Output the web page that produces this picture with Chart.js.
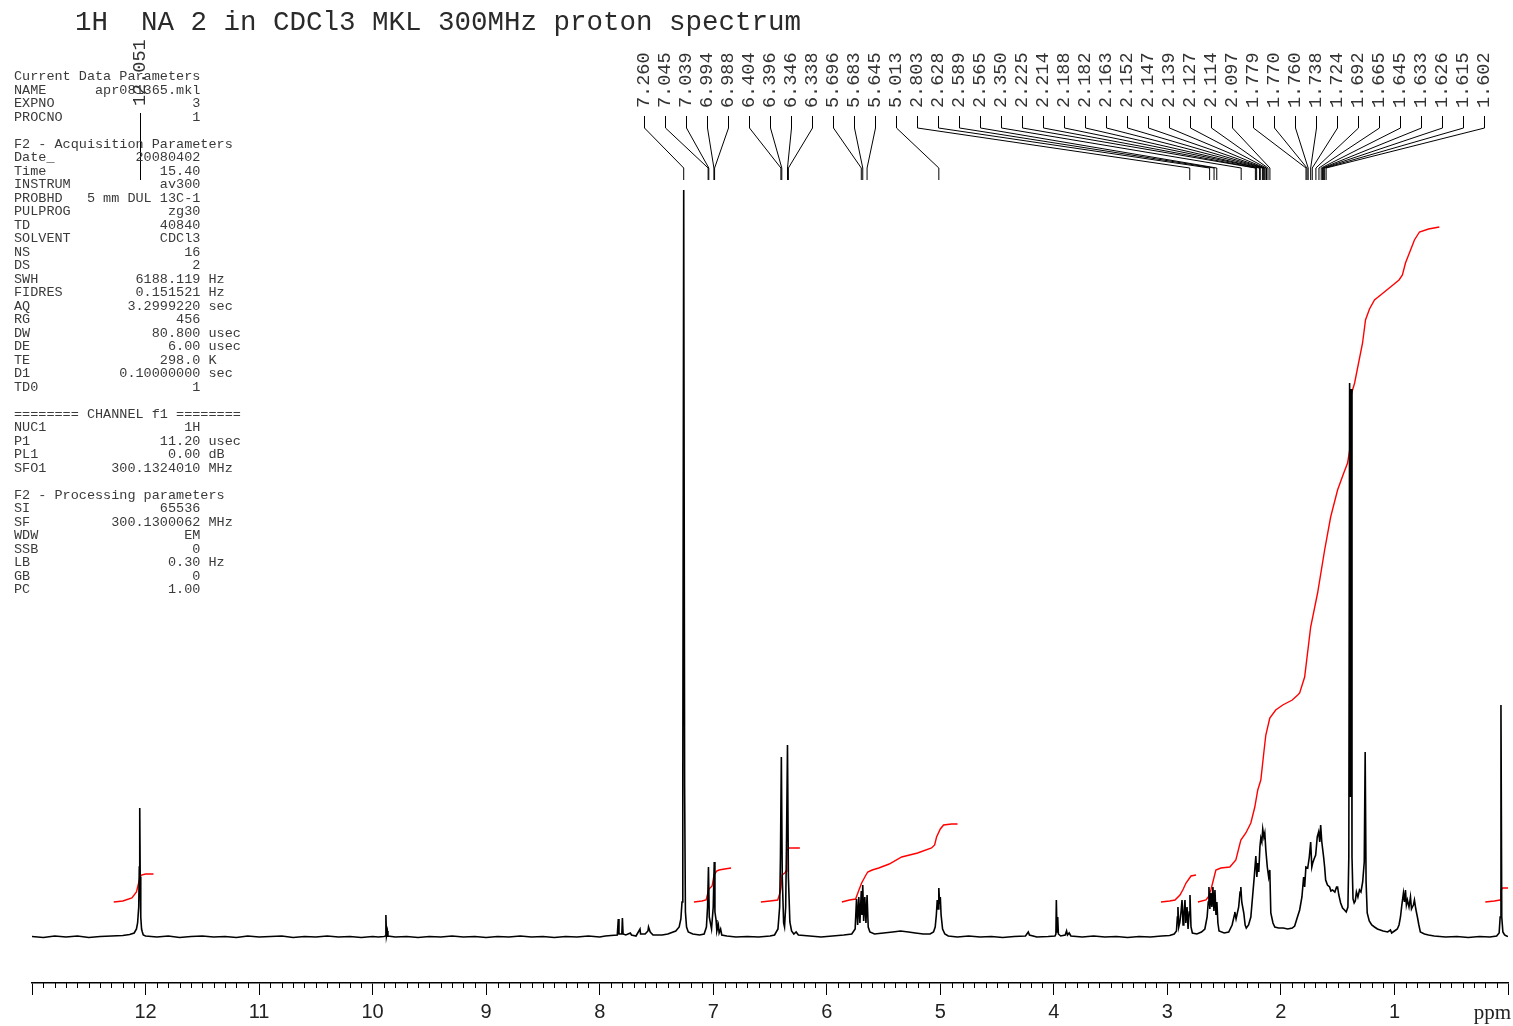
<!DOCTYPE html>
<html>
<head>
<meta charset="utf-8">
<script src="https://cdn.jsdelivr.net/npm/chart.js@4.4.0/dist/chart.umd.min.js"></script>
<style>
  html, body { margin: 0; padding: 0; background: #fff; }
  #wrap { position: relative; width: 1513px; height: 1026px; }
  canvas { position: absolute; left: 0; top: 0; }
  #title { position: absolute; left: 75px; top: 7px; font: 27.5px "Liberation Mono", monospace; line-height: 32px; color: #2a2a2a; white-space: pre; }
  #params { position: absolute; left: 14px; top: 70px; margin: 0; font: 13.5px "Liberation Mono", monospace; line-height: 13.5px; color: #3a3a3a; }
</style>
</head>
<body>
<div id="wrap">
  <canvas id="nmr" width="1513" height="1026"></canvas>
  <div id="title">1H  NA 2 in CDCl3 MKL 300MHz proton spectrum</div>
  <pre id="params"></pre>
</div>
<script>
  // axis ticks (ppm)
  const xTicks = [12, 11, 10, 9, 8, 7, 6, 5, 4, 3, 2, 1];

  // picked peaks shown at the top
  const acidPeak = 12.051;
  const peakLabels = [7.260, 7.045, 7.039, 6.994, 6.988, 6.404, 6.396, 6.346, 6.338,
    5.696, 5.683, 5.645, 5.013, 2.803, 2.628, 2.589, 2.565, 2.350, 2.225, 2.214,
    2.188, 2.182, 2.163, 2.152, 2.147, 2.139, 2.127, 2.114, 2.097, 1.779, 1.770,
    1.760, 1.738, 1.724, 1.692, 1.665, 1.645, 1.633, 1.626, 1.615, 1.602];

  // spectrum trace [ppm, intensity]
  const spectrum = [
    [13.00, 0.5], [12.90, -0.5], [12.80, 1], [12.70, 0], [12.60, 1], [12.50, -0.5], [12.40, 0.5],
    [12.30, 1], [12.20, 1.5], [12.14, 2.5], [12.10, 4], [12.08, 8], [12.07, 14], [12.06, 30],
    [12.055, 70], [12.051, 129], [12.047, 60], [12.042, 20], [12.035, 8], [12.028, 5], [12.02, 2],
    [12.00, 1], [11.90, 0], [11.80, 1], [11.70, -0.5], [11.60, 0.5], [11.50, 1], [11.40, 0],
    [11.30, 0.5], [11.20, -0.5], [11.10, 1], [11.00, 0], [10.90, 0.5], [10.80, 1], [10.70, -0.5],
    [10.60, 0.5], [10.50, 0], [10.40, 1], [10.30, 0], [10.20, 0.5], [10.10, -0.5], [10.00, 0.5],
    [9.95, 0], [9.90, 0.5], [9.888, 1], [9.883, 22], [9.878, 1], [9.870, 6], [9.865, 1],
    [9.80, 0], [9.70, 0.5], [9.60, -0.5], [9.50, 0.5], [9.40, 0], [9.30, 1], [9.20, 0],
    [9.10, 0.5], [9.00, -0.5], [8.90, 0.5], [8.80, 0], [8.70, 1], [8.60, 0], [8.50, 0.5],
    [8.40, -0.5], [8.30, 0.5], [8.20, 0], [8.10, 1], [8.00, 0], [7.95, 1], [7.90, 1.5],
    [7.845, 2], [7.836, 18], [7.830, 3], [7.805, 3], [7.800, 19], [7.794, 3], [7.77, 2],
    [7.73, 4], [7.72, 2], [7.68, 1], [7.645, 8], [7.640, 3], [7.60, 3], [7.575, 6], [7.570, 10],
    [7.555, 5], [7.53, 2], [7.45, 2], [7.40, 3], [7.33, 6], [7.30, 10], [7.285, 18], [7.275, 35],
    [7.268, 150], [7.260, 747], [7.252, 150], [7.245, 25], [7.235, 10], [7.22, 5], [7.18, 3],
    [7.12, 2], [7.08, 3], [7.06, 10], [7.050, 30], [7.042, 70], [7.035, 20], [7.015, 8],
    [7.000, 30], [6.991, 75], [6.985, 25], [6.975, 17], [6.968, 6], [6.955, 12], [6.948, 4],
    [6.935, 8], [6.925, 2], [6.88, 1], [6.80, 0], [6.70, 0.5], [6.60, 0], [6.50, 1], [6.46, 2],
    [6.43, 8], [6.415, 30], [6.408, 80], [6.400, 180], [6.392, 60], [6.380, 14], [6.372, 10],
    [6.362, 30], [6.355, 90], [6.346, 192], [6.338, 60], [6.325, 15], [6.31, 6], [6.29, 3],
    [6.27, 5], [6.25, 2], [6.15, 1], [6.05, 0], [5.95, 1], [5.85, 2], [5.78, 3], [5.75, 8],
    [5.738, 38], [5.728, 12], [5.718, 40], [5.708, 14], [5.696, 46], [5.690, 22], [5.683, 52],
    [5.675, 16], [5.665, 40], [5.655, 14], [5.645, 42], [5.635, 10], [5.62, 5], [5.58, 3],
    [5.50, 4], [5.42, 5], [5.35, 6], [5.28, 5], [5.22, 4], [5.15, 3], [5.09, 3], [5.06, 5],
    [5.045, 10], [5.035, 22], [5.027, 37], [5.020, 28], [5.013, 49], [5.006, 33], [5.000, 40],
    [4.993, 22], [4.980, 8], [4.96, 3], [4.93, 1], [4.85, 0], [4.75, 1], [4.65, 0], [4.55, 0.5],
    [4.45, -0.5], [4.35, 0.5], [4.25, 1], [4.225, 5], [4.215, 2], [4.15, 0], [4.05, 0.5],
    [3.99, 1], [3.982, 3], [3.978, 37], [3.972, 5], [3.966, 20], [3.960, 3], [3.94, 1],
    [3.90, 2], [3.888, 6], [3.880, 2], [3.865, 4], [3.85, 1], [3.75, 0], [3.65, 1], [3.55, 0],
    [3.45, 0.5], [3.35, -0.5], [3.25, 0.5], [3.15, 0], [3.05, 1], [2.98, 1.5], [2.94, 3],
    [2.92, 6], [2.912, 20], [2.907, 30], [2.900, 10], [2.890, 15], [2.880, 25], [2.871, 37],
    [2.862, 12], [2.855, 22], [2.845, 37], [2.838, 14], [2.827, 30], [2.818, 8], [2.808, 25],
    [2.801, 42], [2.792, 10], [2.78, 4], [2.74, 3], [2.70, 5], [2.67, 8], [2.650, 20],
    [2.640, 35], [2.634, 50], [2.626, 28], [2.617, 44], [2.608, 30], [2.599, 50], [2.590, 26],
    [2.581, 47], [2.572, 22], [2.564, 35], [2.555, 14], [2.545, 6], [2.50, 4], [2.46, 5],
    [2.43, 12], [2.41, 22], [2.406, 25], [2.395, 18], [2.372, 30], [2.360, 45], [2.353, 50],
    [2.345, 35], [2.327, 24], [2.315, 12], [2.305, 9], [2.285, 12], [2.265, 20], [2.250, 40],
    [2.235, 60], [2.221, 81], [2.212, 60], [2.204, 74], [2.195, 65], [2.185, 90], [2.177, 99],
    [2.168, 95], [2.160, 108], [2.150, 100], [2.142, 104], [2.133, 87], [2.120, 70],
    [2.108, 60], [2.098, 67], [2.089, 24], [2.070, 14], [2.054, 10], [2.02, 9], [1.98, 9],
    [1.94, 8], [1.90, 9], [1.879, 11], [1.86, 18], [1.835, 27], [1.815, 40], [1.800, 60],
    [1.791, 50], [1.780, 70], [1.764, 69], [1.750, 80], [1.738, 95], [1.728, 70], [1.720, 74],
    [1.708, 78], [1.694, 82], [1.680, 100], [1.668, 105], [1.658, 95], [1.650, 112],
    [1.640, 95], [1.624, 80], [1.615, 70], [1.606, 57], [1.590, 52], [1.571, 50], [1.560, 46],
    [1.545, 47], [1.525, 45], [1.510, 50], [1.501, 50], [1.490, 42], [1.474, 34], [1.457, 29],
    [1.440, 27], [1.425, 25], [1.410, 30], [1.402, 80], [1.395, 554], [1.388, 140],
    [1.381, 548], [1.374, 80], [1.365, 38], [1.355, 34], [1.345, 36], [1.335, 45], [1.322, 40],
    [1.308, 47], [1.295, 45], [1.280, 55], [1.266, 75], [1.258, 185], [1.250, 55], [1.240, 24],
    [1.222, 16], [1.200, 12], [1.176, 10], [1.15, 8], [1.10, 6], [1.06, 5], [1.035, 7],
    [1.025, 4], [1.00, 6], [0.975, 8], [0.960, 12], [0.947, 20], [0.935, 32], [0.921, 44],
    [0.912, 35], [0.903, 47], [0.895, 32], [0.886, 37], [0.872, 30], [0.859, 40], [0.850, 28],
    [0.842, 30], [0.833, 32], [0.824, 37], [0.812, 28], [0.798, 20], [0.785, 12], [0.772, 5],
    [0.736, 3], [0.70, 2], [0.65, 1], [0.55, 0], [0.45, 0.5], [0.35, -0.5], [0.25, 0.5],
    [0.16, 0], [0.10, 1], [0.078, 4], [0.069, 20], [0.062, 232], [0.055, 20], [0.045, 5],
    [0.030, 2], [0.012, 1], [0.00, 0.5]
  ];

  // integral curves [ppm, height]
  const integral1 = [[12.28, 35], [12.20, 36], [12.12, 39], [12.08, 45], [12.065, 52], [12.05, 59], [12.035, 62], [12.00, 63], [11.93, 63]];
  const integral2 = [[7.17, 35], [7.10, 36], [7.063, 37], [7.045, 45], [7.037, 48], [7.010, 51], [6.993, 62], [6.97, 66], [6.949, 67], [6.90, 68], [6.843, 69]];
  const integral3 = [[6.58, 35], [6.50, 36], [6.432, 37], [6.410, 45], [6.403, 50], [6.394, 62], [6.370, 64], [6.359, 66], [6.351, 87], [6.330, 89], [6.307, 89], [6.237, 89]];
  const integral4 = [[5.867, 35], [5.80, 37], [5.746, 38], [5.72, 46], [5.693, 54], [5.66, 61], [5.639, 65], [5.60, 67], [5.542, 69], [5.45, 73], [5.34, 80], [5.20, 84], [5.077, 89], [5.050, 92], [5.033, 100], [5.00, 108], [4.971, 112], [4.90, 113], [4.848, 113]];
  const integral5 = [[3.056, 35], [2.98, 36], [2.933, 37], [2.889, 42], [2.860, 48], [2.836, 54], [2.792, 61], [2.748, 62]];
  const integral6 = [[2.731, 35], [2.660, 37], [2.640, 40], [2.617, 47], [2.573, 67], [2.529, 69], [2.450, 70], [2.397, 77], [2.353, 97], [2.309, 104], [2.265, 114], [2.230, 130], [2.204, 147], [2.177, 157], [2.150, 185], [2.133, 202], [2.098, 219], [2.046, 227], [1.984, 232], [1.900, 237], [1.852, 242], [1.835, 244], [1.791, 260], [1.738, 310], [1.677, 344], [1.615, 387], [1.562, 420], [1.501, 447], [1.450, 463], [1.413, 474], [1.390, 490], [1.387, 540], [1.351, 554], [1.281, 594], [1.255, 617], [1.220, 628], [1.176, 637], [1.100, 644], [1.035, 650], [0.960, 657], [0.930, 662], [0.903, 674], [0.824, 697], [0.780, 705], [0.700, 708], [0.605, 710]];
  const integral7 = [[0.20, 35], [0.12, 36], [0.070, 37], [0.062, 47], [0.048, 49], [0.00, 49]];

  // acquisition / processing parameters
  const paramRows = [
    ['Current Data Parameters'], ['NAME', 'apr081365.mkl'], ['EXPNO', '3'], ['PROCNO', '1'], [''],
    ['F2 - Acquisition Parameters'], ['Date_', '20080402'], ['Time', '15.40'], ['INSTRUM', 'av300'],
    ['PROBHD', '5 mm DUL 13C-1'], ['PULPROG', 'zg30'], ['TD', '40840'], ['SOLVENT', 'CDCl3'],
    ['NS', '16'], ['DS', '2'], ['SWH', '6188.119', 'Hz'], ['FIDRES', '0.151521', 'Hz'],
    ['AQ', '3.2999220', 'sec'], ['RG', '456'], ['DW', '80.800', 'usec'], ['DE', '6.00', 'usec'],
    ['TE', '298.0', 'K'], ['D1', '0.10000000', 'sec'], ['TD0', '1'], [''],
    ['======== CHANNEL f1 ========'], ['NUC1', '1H'], ['P1', '11.20', 'usec'], ['PL1', '0.00', 'dB'],
    ['SFO1', '300.1324010', 'MHz'], [''], ['F2 - Processing parameters'], ['SI', '65536'],
    ['SF', '300.1300062', 'MHz'], ['WDW', 'EM'], ['SSB', '0'], ['LB', '0.30', 'Hz'], ['GB', '0'], ['PC', '1.00']
  ];

  document.getElementById('params').textContent = paramRows.map(function(r) {
    if (r.length === 1) return r[0];
    return r[0] + r[1].padStart(23 - r[0].length) + (r[2] ? ' ' + r[2] : '');
  }).join('\n');

  const toXY = arr => arr.map(p => ({ x: p[0], y: p[1] }));

  function integralSet(arr) {
    return { data: toXY(arr), borderColor: '#ff0000', borderWidth: 1.4, pointRadius: 0, tension: 0, fill: false };
  }

  // peak picking labels, minor ticks and the ppm unit
  const decorPlugin = {
    id: 'decor',
    afterDraw(chart) {
      const ctx = chart.ctx, xs = chart.scales.x, bottom = chart.chartArea.bottom;
      ctx.save();

      // minor ticks every 0.1 ppm
      ctx.strokeStyle = '#000';
      ctx.lineWidth = 1;
      ctx.beginPath();
      for (let i = 1; i < 130; i++) {
        if (i % 10 === 0) continue;
        const x = Math.round(xs.getPixelForValue(i / 10)) + 0.5;
        ctx.moveTo(x, bottom);
        ctx.lineTo(x, bottom + 5);
      }
      ctx.stroke();

      ctx.font = '21px "Liberation Serif", serif';
      ctx.fillStyle = '#222';
      ctx.textAlign = 'right';
      ctx.textBaseline = 'alphabetic';
      ctx.fillText('ppm', 1511, 1019);

      // peak labels
      ctx.font = '18.5px "Liberation Mono", monospace';
      ctx.fillStyle = '#333';
      ctx.textAlign = 'left';
      ctx.textBaseline = 'middle';
      ctx.beginPath();
      peakLabels.forEach(function(p, i) {
        const lx = Math.round(644 + i * 21.0) + 0.5;
        const px = xs.getPixelForValue(p);
        ctx.moveTo(lx, 116);
        ctx.lineTo(lx, 128);
        ctx.lineTo(px, 168);
        ctx.lineTo(px, 180);
        ctx.save();
        ctx.translate(lx, 108);
        ctx.rotate(-Math.PI / 2);
        ctx.fillText(p.toFixed(3), 0, 0);
        ctx.restore();
      });
      const ax = Math.round(xs.getPixelForValue(acidPeak)) + 0.5;
      ctx.moveTo(ax, 113);
      ctx.lineTo(ax, 180);
      ctx.stroke();
      ctx.save();
      ctx.translate(ax, 106);
      ctx.rotate(-Math.PI / 2);
      ctx.fillText(acidPeak.toFixed(3), 0, 0);
      ctx.restore();

      ctx.restore();
    }
  };

  const ctx = document.getElementById('nmr').getContext('2d');
  const nmrChart = new Chart(ctx, {
    type: 'line',
    data: {
      datasets: [
        { data: toXY(spectrum), borderColor: '#000', borderWidth: 1.6, pointRadius: 0, tension: 0, fill: false },
        integralSet(integral1), integralSet(integral2), integralSet(integral3), integralSet(integral4),
        integralSet(integral5), integralSet(integral6), integralSet(integral7)
      ]
    },
    options: {
      responsive: false,
      animation: false,
      devicePixelRatio: 1,
      layout: { padding: { top: 185, left: 32, right: 3, bottom: 0 } },
      plugins: { legend: { display: false }, tooltip: { enabled: false } },
      scales: {
        x: {
          type: 'linear',
          reverse: true,
          min: 0,
          max: 13,
          afterFit: function(scale) { scale.height = 43; },
          ticks: {
            stepSize: 1,
            autoSkip: false,
            maxRotation: 0,
            padding: 5,
            color: '#222',
            font: { family: '"Liberation Sans", Arial, sans-serif', size: 20 },
            callback: function(v) { return xTicks.includes(v) ? String(v) : ''; }
          },
          grid: { drawOnChartArea: false, drawTicks: true, tickLength: 12, color: '#000', tickWidth: 1 },
          border: { display: true, color: '#000', width: 1.5 }
        },
        y: {
          display: false,
          min: -46,
          max: 752
        }
      }
    },
    plugins: [decorPlugin]
  });
</script>
</body>
</html>
